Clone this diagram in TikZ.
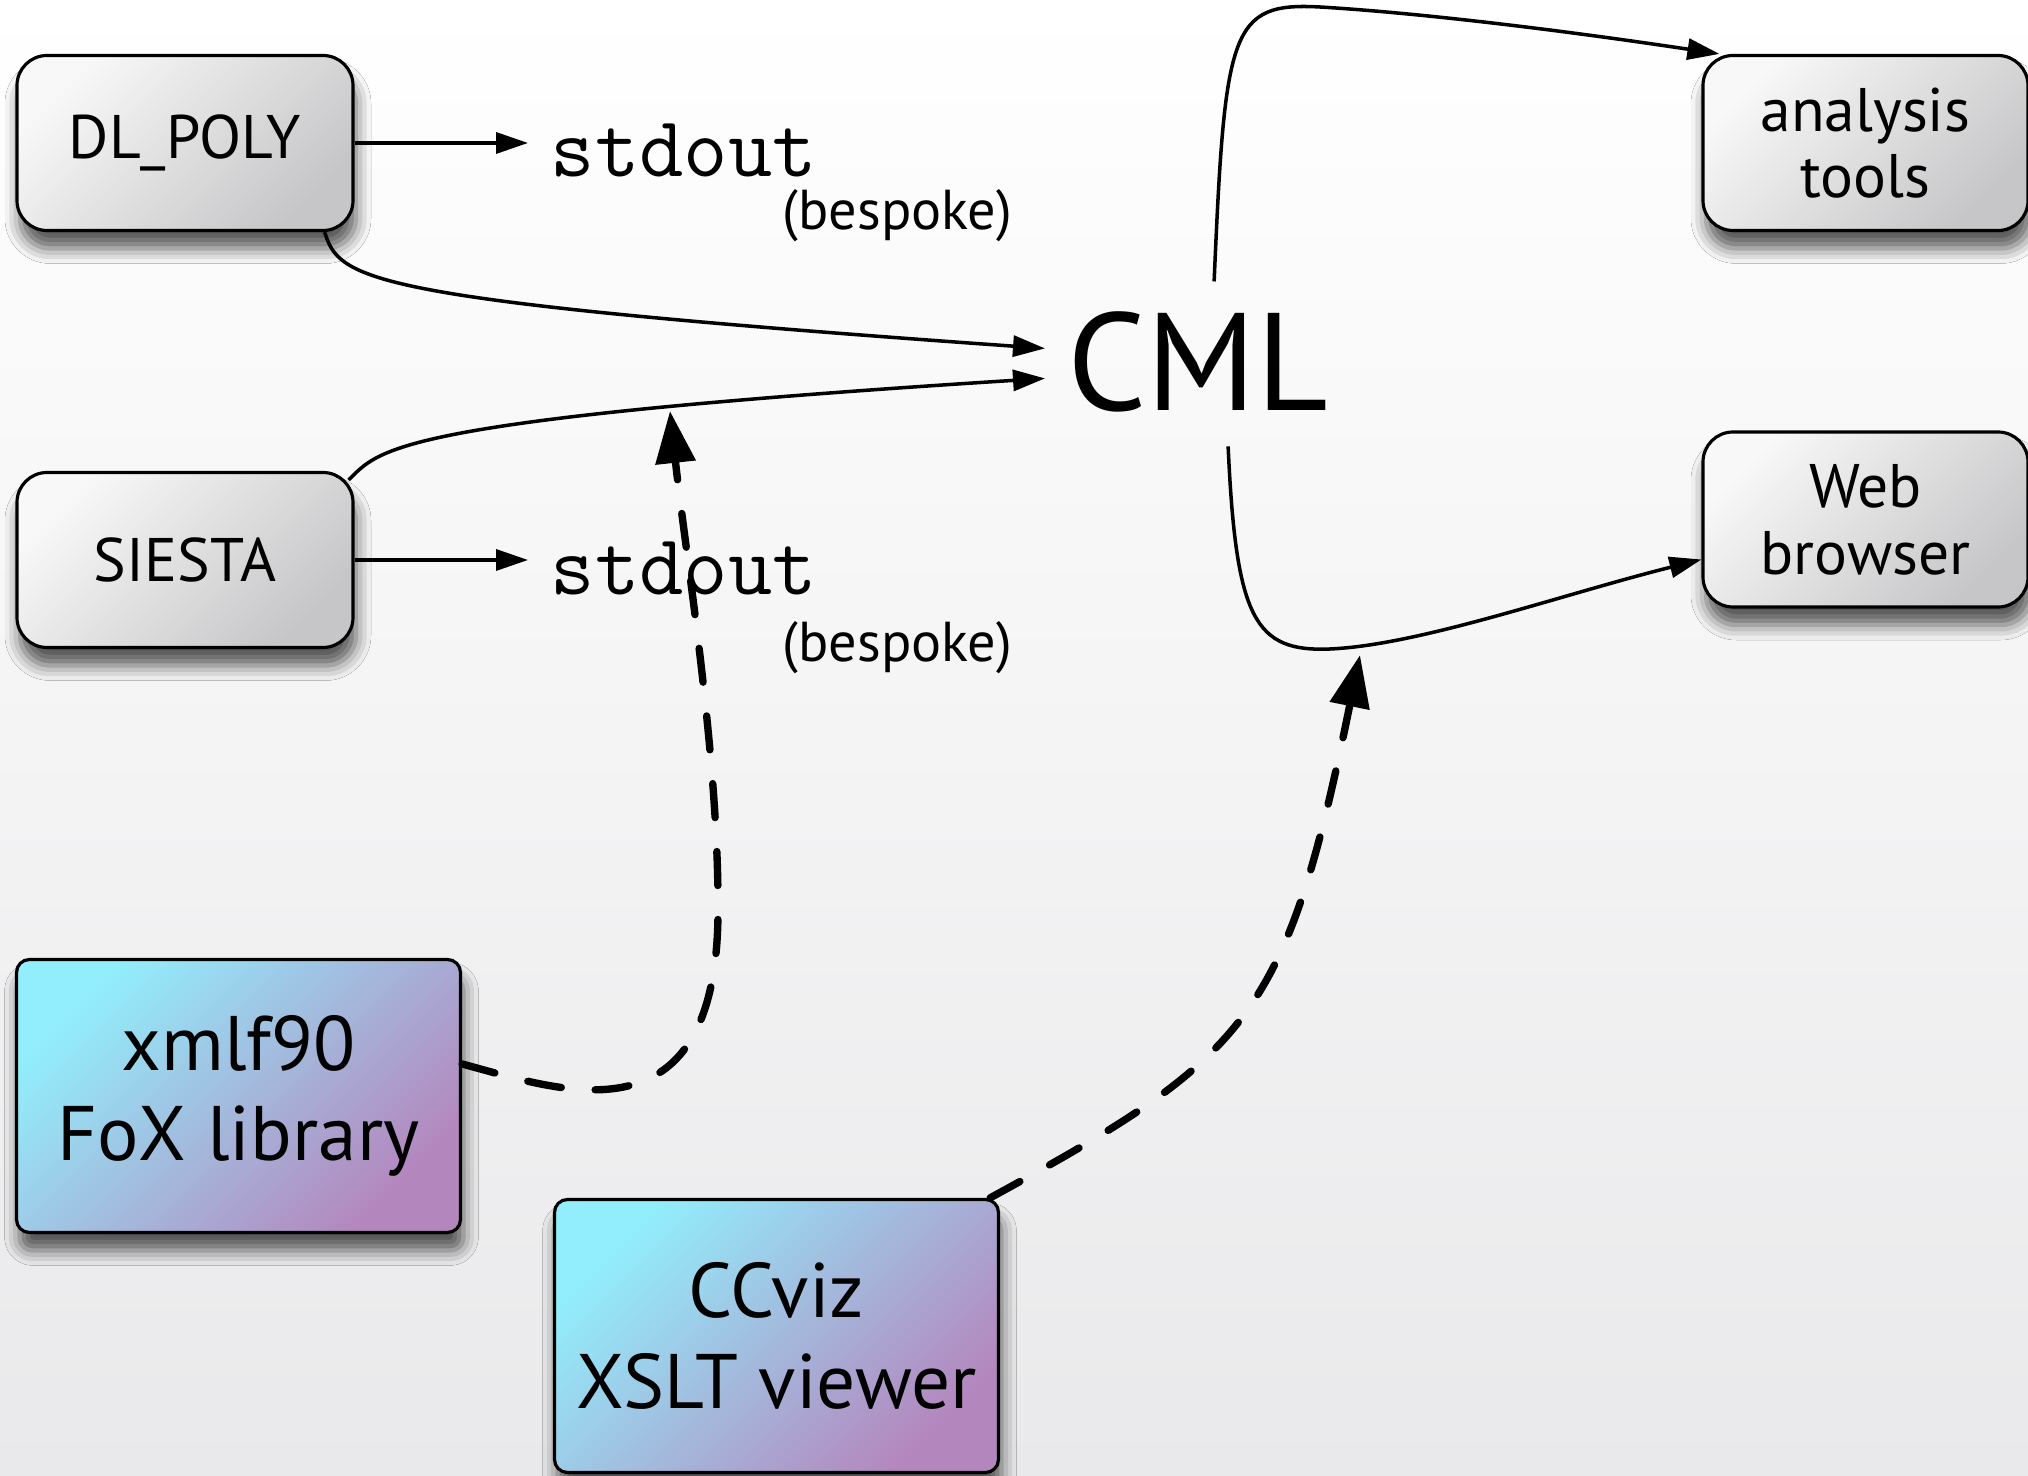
\documentclass[tikz,border=0pt]{standalone}
\usepackage{fontspec}
\setmainfont{PT Sans}
\usepackage{tikz}
\usetikzlibrary{shapes, positioning, arrows.meta, shadows.blur}

\tikzset{
  greybox/.style={draw, line width=0.9pt, rounded corners=3mm,
    minimum width=3.36cm, minimum height=1.75cm, align=center,
    top color=boxlight, bottom color=boxdark, shading angle=45,
    blur shadow={shadow xshift=0.3mm, shadow yshift=-1.8mm, shadow blur radius=1.5mm, shadow opacity=65},
    font=\fontsize{17.5}{19}\selectfont},
  toolbox/.style={draw, line width=0.9pt, rounded corners=1.3mm,
    minimum width=4.44cm, minimum height=2.73cm, align=center,
    top color=toolcyan, bottom color=toolpink, shading angle=45,
    blur shadow={shadow xshift=0.3mm, shadow yshift=-1.8mm, shadow blur radius=1.5mm, shadow opacity=65},
    font=\fontsize{22}{25.7}\selectfont},
  thin arrow/.style={-{Triangle[length=3.2mm,width=2.1mm]}, line width=1pt},
  dash arrow/.style={-{Triangle[length=5.2mm,width=3.9mm]}, line width=2.1pt,
    line cap=round, dash pattern=on 3.4mm off 3.4mm},
  rawtext/.style={anchor=base west, inner sep=0pt, font=\ttfamily\fontsize{24.5}{26}\selectfont},
  notetext/.style={anchor=base west, inner sep=0pt, font=\fontsize{16}{18}\selectfont}
}

\begin{document}
\begin{tikzpicture}

% Define colors for the boxes and the page
\definecolor{boxlight}{RGB}{248,248,248}
\definecolor{boxdark}{RGB}{198,198,200}
\definecolor{toolcyan}{RGB}{146,238,252}
\definecolor{toolpink}{RGB}{180,134,190}
\definecolor{pagebottom}{RGB}{233,233,235}

% Page background
\shade[top color=white, bottom color=pagebottom] (0,0) rectangle (20.28,-14.76);
\useasboundingbox (0,0) rectangle (20.28,-14.76);

% Codes that write output
\node[greybox] (dlpoly) at (1.85,-1.43) {DL\_POLY};
\node[greybox] (siesta) at (1.85,-5.60) {SIESTA};

% Raw output
\node[rawtext] (stdtop) at (5.50,-1.77) {stdout};
\node[notetext] (bestop) at (7.82,-2.30) {(bespoke)};
\node[rawtext] (stdbot) at (5.50,-5.95) {stdout};
\node[notetext] (besbot) at (7.82,-6.62) {(bespoke)};

% CML in the middle
\node[anchor=base west, inner sep=0pt, font=\fontsize{39.5}{42}\selectfont] (cml) at (10.67,-4.11) {CML};

% Consumers
\node[greybox, minimum width=3.25cm] (analysis) at (18.655,-1.43) {analysis\\tools};
\node[greybox, minimum width=3.25cm] (web) at (18.655,-5.195) {Web\\browser};

% Libraries
\node[toolbox] (xmlf) at (2.385,-10.96) {xmlf90\\FoX library};
\node[toolbox] (ccviz) at (7.765,-13.36) {CCviz\\XSLT viewer};

% Free ends of the dashed arrows
\coordinate (foxtip) at (6.70,-4.11);
\coordinate (viztip) at (13.60,-6.55);

% Plain output
\draw[thin arrow] (dlpoly.east) -- ([xshift=-2.2mm]dlpoly.east -| stdtop.west);
\draw[thin arrow] (siesta.east) -- ([xshift=-2.2mm]siesta.east -| stdbot.west);

% Output into CML
\draw[thin arrow] ([xshift=-3mm]dlpoly.south east) .. controls (3.4,-2.8) and (3.6,-3.0) .. ([shift={(-2.2mm,1.4mm)}]cml.west);
\draw[thin arrow] ([shift={(-0.6mm,-0.9mm)}]siesta.north east) .. controls (3.8,-4.5) and (3.85,-4.2) .. ([shift={(-2.2mm,-1.6mm)}]cml.west);

% CML out to the tools
\draw[thin arrow] ([shift={(1.6mm,3mm)}]cml.north) .. controls (12.25,-0.3) and (12.3,-0.02) .. (13.2,-0.07) .. controls (14.2,-0.13) and (15.6,-0.3) .. ([xshift=1.8mm]analysis.north west);
\draw[thin arrow] ([shift={(3mm,-3.3mm)}]cml.south) .. controls (12.36,-6.2) and (12.55,-6.52) .. (13.3,-6.49) .. controls (14.2,-6.45) and (15.6,-5.95) .. ([yshift=-4mm]web.west);

% Libraries feeding in
\draw[dash arrow] ([yshift=3.2mm]xmlf.east) .. controls (5.6,-10.9) and (7.2,-11.5) .. (7.18,-9.05) .. controls (7.18,-7.5) and (6.85,-5.5) .. (foxtip);
\draw[dash arrow] ([xshift=-1mm]ccviz.north east) .. controls (12.5,-10.56) and (12.86,-10.18) .. (viztip);

\end{tikzpicture}
\end{document}
